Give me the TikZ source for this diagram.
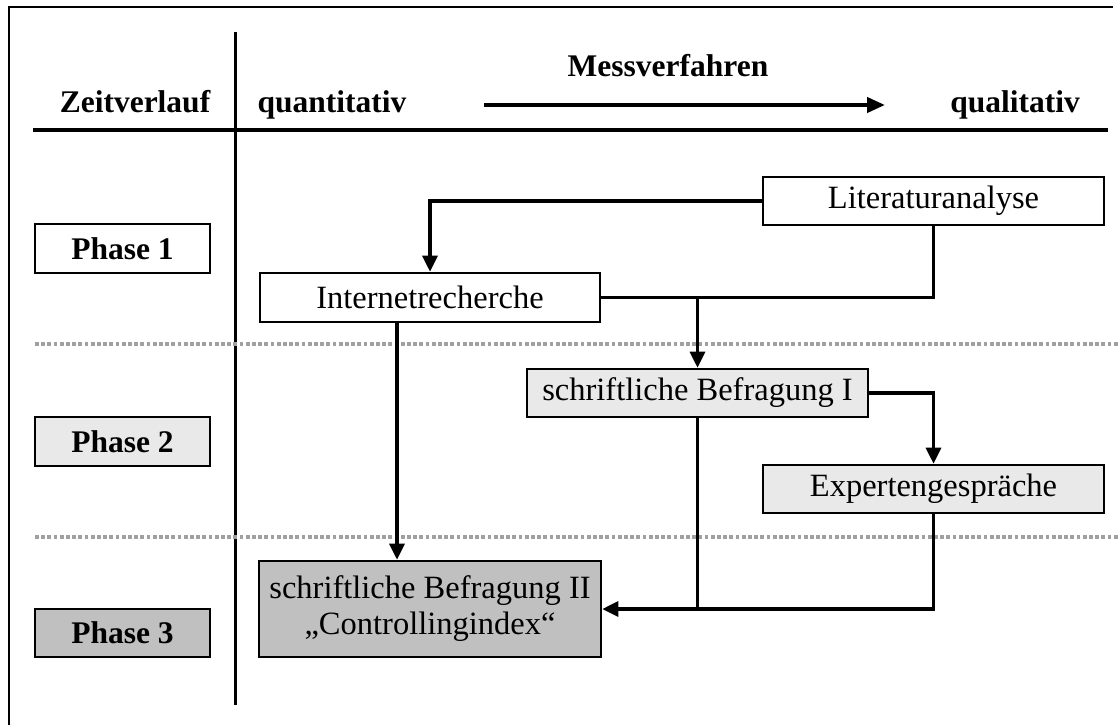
\documentclass[tikz,border=0pt]{standalone}
\usepackage{fontspec}
\setmainfont{Liberation Serif}
\usetikzlibrary{arrows.meta,calc}

\definecolor{lightfill}{HTML}{E9E9E9}
\definecolor{darkfill}{HTML}{C0C0C0}
\definecolor{dotgray}{HTML}{A0A0A0}

\tikzset{
  boxtext/.style={font=\fontsize{32.5}{36}\selectfont},
  headtext/.style={font=\fontsize{31.5}{35}\selectfont\bfseries, inner sep=0pt},
  stepbox/.style={draw=black, line width=2.6pt, rectangle, inner sep=0pt,
    align=center, boxtext},
  phasebox/.style={stepbox, font=\fontsize{31.5}{35}\selectfont\bfseries},
  conn/.style={line width=3.2pt, -{Triangle[length=16pt,width=15pt]}},
  plainconn/.style={line width=3.2pt},
  phaseline/.style={dotgray, line width=3.6pt, dash pattern=on 3.8pt off 2.4pt},
}

\begin{document}
\begin{tikzpicture}[x=1pt,y=-1pt]
\useasboundingbox (0,0) rectangle (1118,725);

% outer frame and table rules
\draw[line width=2.6pt] (9,725) -- (9,7) -- (1113,7);
\draw[line width=3pt] (235,32) -- (235,705);
\draw[line width=3.4pt] (33,130) -- (1108,130);

% phase separators
\draw[phaseline] (35,344) -- (1118,344);
\draw[phaseline] (35,537) -- (1118,537);

% header
\node[headtext, anchor=base] (zeit) at (135,112) {Zeitverlauf};
\node[headtext, anchor=base] (quant) at (332,112) {quantitativ};
\node[headtext, anchor=base] (qual) at (1015,112) {qualitativ};
\node[headtext, anchor=base] (mess) at (668,77) {Messverfahren};
\coordinate (ms) at (484,105);
\coordinate (me) at (885,105);
\draw[line width=4pt, -{Triangle[length=18pt,width=15pt]}] (ms) -- (me);

% phase labels
\node[phasebox, minimum width=175pt, minimum height=49pt] (p1) at (122.5,248.5) {Phase 1};
\node[phasebox, fill=lightfill, minimum width=175pt, minimum height=49pt] (p2) at (122.5,441.5) {Phase 2};
\node[phasebox, fill=darkfill, minimum width=175pt, minimum height=48pt] (p3) at (122.5,633) {Phase 3};

% method boxes
\node[stepbox, minimum width=341pt, minimum height=48pt] (lit) at (933.5,201) {Literaturanalyse};
\node[stepbox, minimum width=340pt, minimum height=49pt] (inet) at (430,297.5) {Internetrecherche};
\node[stepbox, fill=lightfill, minimum width=341pt, minimum height=48pt] (bef1) at (697.5,393) {schriftliche Befragung I};
\node[stepbox, fill=lightfill, minimum width=341pt, minimum height=48pt] (exp) at (933.5,489) {Expertengespräche};
\node[stepbox, fill=darkfill, minimum width=342pt, minimum height=96pt] (bef2) at (430,609)
  {schriftliche Befragung II\\„Controllingindex“};

% connectors
\draw[conn] (lit.west) -| (inet.north);
\draw[plainconn] (lit.south) |- (inet.east);
\coordinate (join) at (inet.east -| bef1.north);
\draw[conn] (join) -- (bef1.north);
\draw[conn] (bef1.east) -| (exp.north);
\draw[conn] ([xshift=-33pt]inet.south) -- ([xshift=-33pt]bef2.north);
\draw[conn] (exp.south) |- (bef2.east);
\draw[plainconn] (bef1.south) -- (bef1.south |- bef2.east);
\end{tikzpicture}
\end{document}
